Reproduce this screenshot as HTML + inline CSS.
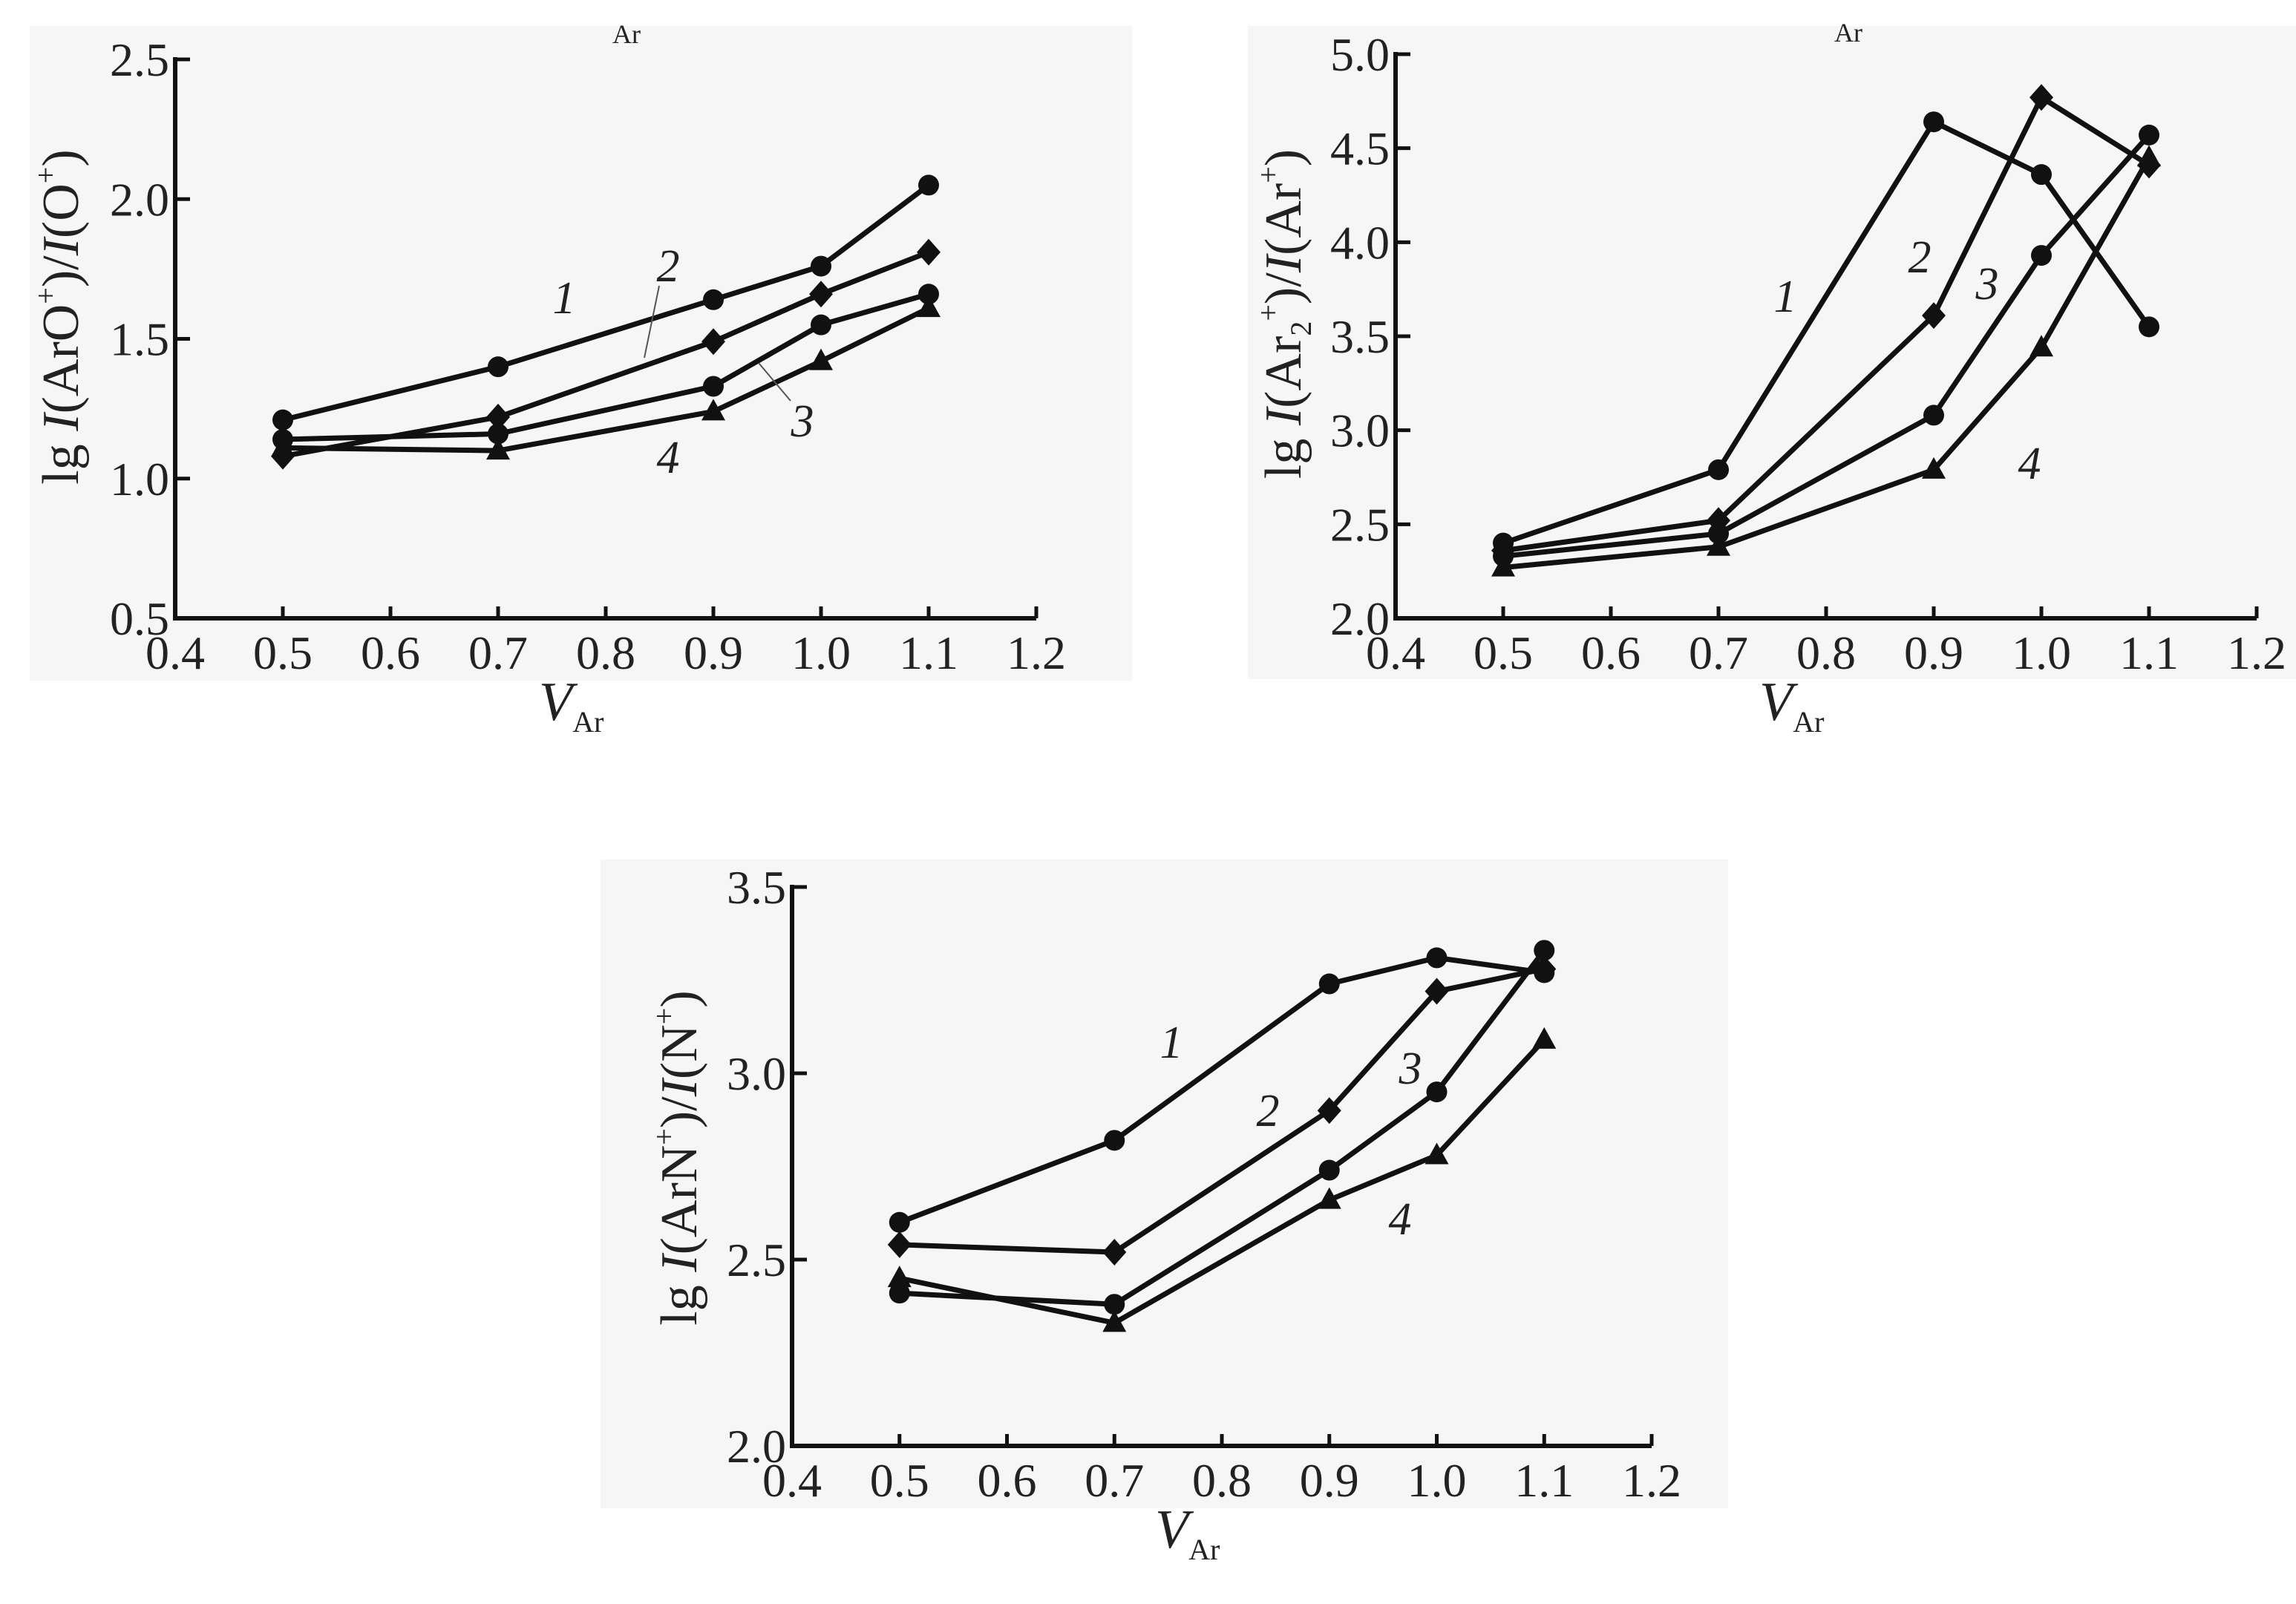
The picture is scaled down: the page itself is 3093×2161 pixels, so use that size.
<!DOCTYPE html>
<html><head><meta charset="utf-8"><style>
html,body{margin:0;padding:0;background:#fff;}
svg{display:block;}
text{font-family:"Liberation Serif",serif;fill:#222;}
</style></head><body>
<svg id="s" width="3093" height="2161" viewBox="0 0 3093 2161" xmlns="http://www.w3.org/2000/svg">
<rect x="0" y="0" width="3093" height="2161" fill="#fff"/>
<rect x="40" y="35" width="1485" height="882" fill="#f6f6f6"/>
<rect x="1681" y="35" width="1412" height="880" fill="#f6f6f6"/>
<rect x="809" y="1158" width="1519" height="874" fill="#f6f6f6"/>
<text x="844" y="58" font-size="36" text-anchor="middle">Ar</text>
<text x="2490" y="56" font-size="36" text-anchor="middle">Ar</text>
<g id="g"></g>
</svg>
<script>
var NS="http://www.w3.org/2000/svg",g=document.getElementById('g');
function el(t,a,txt){var e=document.createElementNS(NS,t);for(var k in a)e.setAttribute(k,a[k]);if(txt!=null)e.textContent=txt;g.appendChild(e);return e;}
function plot(P){
 var X=function(v){return P.x0+(v-0.4)*(P.x1-P.x0)/0.8};
 var Y=function(v){return P.yb-(v-P.ymin)*(P.yb-P.yt)/(P.ymax-P.ymin)};
 el('line',{x1:P.x0,y1:P.yt-3,x2:P.x0,y2:P.yb+3,stroke:'#111','stroke-width':6});
 el('line',{x1:P.x0-3,y1:P.yb,x2:P.x1,y2:P.yb,stroke:'#111','stroke-width':6});
 for(var i=0;i<=8;i++){var v=0.4+i*0.1,x=X(v);
  if(i>0)el('line',{x1:x,y1:P.yb,x2:x,y2:P.yb-16,stroke:'#111','stroke-width':5});
  el('text',{x:x,y:P.yb+68,'font-size':64,'text-anchor':'middle'},v.toFixed(1));}
 for(var v=P.ymin;v<=P.ymax+1e-9;v+=0.5){var y=Y(v);
  if(v>P.ymin)el('line',{x1:P.x0,y1:y,x2:P.x0+20,y2:y,stroke:'#111','stroke-width':5});
  el('text',{x:P.x0-8,y:y+22,'font-size':64,'text-anchor':'end'},v.toFixed(1));}
 var xm=(P.x0+P.x1)/2;
 var t=el('text',{x:xm-90,y:P.yb+137,'font-size':74});
 t.innerHTML='<tspan font-style="italic">V</tspan><tspan font-size="40" dy="16">Ar</tspan>';
 var yt=el('text',{x:0,y:0,'font-size':70,'text-anchor':'middle',transform:'translate('+P.lx+','+P.ly+') rotate(-90)'});
 yt.innerHTML=P.lab;
 var xs=[0.5,0.7,0.9,1.0,1.1],mk=['c','d','c','t'];
 P.data.forEach(function(d,si){
  var pts=d.map(function(v,i){return X(xs[i])+','+Y(v)}).join(' ');
  el('polyline',{points:pts,fill:'none',stroke:'#111','stroke-width':7,'stroke-linejoin':'round'});
  d.forEach(function(v,i){var x=X(xs[i]),y=Y(v),m=mk[si];
   if(m=='c')el('circle',{cx:x,cy:y,r:14,fill:'#111'});
   else if(m=='d')el('polygon',{points:(x)+','+(y-18)+' '+(x+16)+','+y+' '+x+','+(y+18)+' '+(x-16)+','+y,fill:'#111'});
   else el('polygon',{points:x+','+(y-17)+' '+(x+16)+','+(y+12)+' '+(x-16)+','+(y+12),fill:'#111'});
  });
 });
 P.nums.forEach(function(n,i){el('text',{x:n[0],y:n[1]+22,'font-size':62,'font-style':'italic','text-anchor':'middle'},String(i+1));});
}
plot({x0:236,x1:1396,yt:80,yb:833,ymin:0.5,ymax:2.5,lx:105,ly:427,
 lab:'lg <tspan font-style="italic">I</tspan>(ArO<tspan font-size="40" dy="-30">+</tspan><tspan dy="30">)/</tspan><tspan font-style="italic">I</tspan>(O<tspan font-size="40" dy="-30">+</tspan><tspan dy="30">)</tspan>',
 data:[[1.21,1.40,1.64,1.76,2.05],[1.08,1.22,1.49,1.66,1.81],[1.14,1.16,1.33,1.55,1.66],[1.11,1.10,1.24,1.42,1.61]],
 nums:[[760,400],[900,357],[1081,566],[900,615]]});
el('line',{x1:888,y1:385,x2:868,y2:482,stroke:'#555','stroke-width':2});
el('line',{x1:1065,y1:540,x2:1022,y2:489,stroke:'#555','stroke-width':2});
plot({x0:1880,x1:3040,yt:73,yb:833,ymin:2.0,ymax:5.0,lx:1752,ly:423,
 lab:'lg <tspan font-style="italic">I</tspan>(Ar<tspan font-size="40" dy="14">2</tspan><tspan font-size="40" dy="-44">+</tspan><tspan dy="30">)/</tspan><tspan font-style="italic">I</tspan>(Ar<tspan font-size="40" dy="-30">+</tspan><tspan dy="30">)</tspan>',
 data:[[2.40,2.79,4.64,4.36,3.55],[2.36,2.52,3.61,4.77,4.41],[2.33,2.45,3.08,3.93,4.57],[2.27,2.38,2.79,3.44,4.45]],
 nums:[[2405,398],[2586,345],[2677,381],[2734,623]]});
plot({x0:1067,x1:2225,yt:1195,yb:1948,ymin:2.0,ymax:3.5,lx:938,ly:1560,
 lab:'lg <tspan font-style="italic">I</tspan>(ArN<tspan font-size="40" dy="-30">+</tspan><tspan dy="30">)/</tspan><tspan font-style="italic">I</tspan>(N<tspan font-size="40" dy="-30">+</tspan><tspan dy="30">)</tspan>',
 data:[[2.60,2.82,3.24,3.31,3.27],[2.54,2.52,2.90,3.22,3.28],[2.41,2.38,2.74,2.95,3.33],[2.45,2.33,2.66,2.78,3.09]],
 nums:[[1578,1403],[1708,1495],[1900,1438],[1886,1641]]});
</script>
</body></html>
